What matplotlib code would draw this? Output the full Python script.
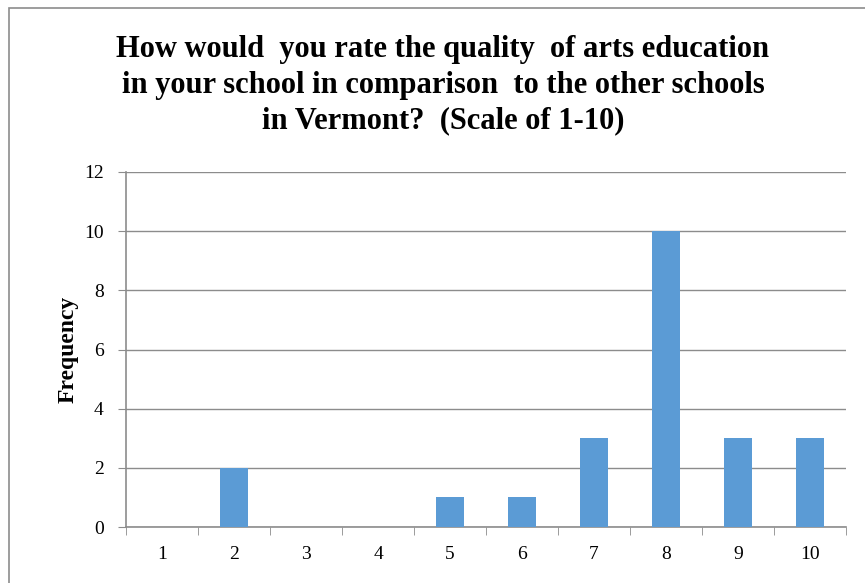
import matplotlib
matplotlib.use('Agg')
import matplotlib.pyplot as plt
from matplotlib.patches import Rectangle
import numpy as np

# 评分 1-10 的频数
ratings = ['1', '2', '3', '4', '5', '6', '7', '8', '9', '10']
freq = [0, 2, 0, 0, 1, 1, 3, 10, 3, 3]

plt.rcParams['font.family'] = ['Liberation Serif', 'DejaVu Serif']

fig = plt.figure(figsize=(8.65, 5.83), dpi=100)
# 外框
fig.patches.append(Rectangle((9 / 865, -0.05), 1.0, 1 - 8 / 583 + 0.05,
                             transform=fig.transFigure, fill=False,
                             edgecolor='#8c8c8c', linewidth=1.2))

ax = fig.add_axes([126 / 865, 56 / 583, 720 / 865, 355 / 583])
x = np.arange(len(ratings))
ax.bar(x, freq, width=0.4, color='#5b9bd5', zorder=3)

ax.set_xlim(-0.5, len(ratings) - 0.5)
ax.set_ylim(0, 12)
ax.set_yticks(range(0, 13, 2))
ax.set_xticks(x)
ax.set_xticklabels(ratings, fontsize=14)
ax.set_xticks(np.arange(-0.5, len(ratings), 1), minor=True)
ax.tick_params(axis='x', which='major', length=0, pad=14)
ax.tick_params(axis='x', which='minor', length=6, color='#8c8c8c', direction='out')
ax.tick_params(axis='y', labelsize=14, length=6, color='#8c8c8c', direction='out', pad=10)

ax.grid(axis='y', color='#8c8c8c', linewidth=1, zorder=0)
for s in ['top', 'right']:
    ax.spines[s].set_visible(False)
for s in ['left', 'bottom']:
    ax.spines[s].set_color('#8c8c8c')
    ax.spines[s].set_linewidth(1.2)

ax.set_ylabel('Frequency', fontsize=17, fontweight='bold', labelpad=4)

fig.text(0.512, 1 - 85 / 583,
         'How would  you rate the quality  of arts education\n'
         'in your school in comparison  to the other schools\n'
         'in Vermont?  (Scale of 1-10)',
         ha='center', va='center', fontsize=22, fontweight='bold',
         linespacing=1.3)

fig.savefig('out.png', dpi=100)
